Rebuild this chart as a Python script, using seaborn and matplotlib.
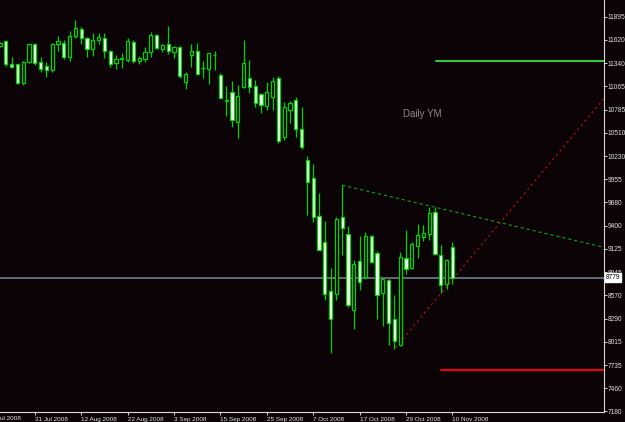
import numpy as np
import pandas as pd
import matplotlib
matplotlib.use("Agg")
import matplotlib.pyplot as plt
import matplotlib.transforms as mtransforms
from matplotlib import font_manager
import seaborn as sns

# ---------------- data ----------------
opens = [11548, 11608, 11333, 11329, 11105, 11353, 11572, 11357, 11312, 11261,
         11568, 11580, 11413, 11668, 11751, 11647, 11512, 11623, 11640, 11492,
         11341, 11395, 11380, 11600, 11372, 11392, 11480, 11680, 11512, 11568,
         11480, 11540, 11121, 11440, 11492, 11285, 11273, 11445, 11201, 10895,
         10994, 10642, 11061, 11161, 11069, 10974, 10834, 10941, 11161, 10463,
         10782, 10902, 10555, 10184, 9965, 9514, 9206, 8616, 8588, 9505,
         9307, 8397, 8983, 8787, 9274, 9079, 8601, 8748, 8289, 7970,
         9019, 8895, 9158, 9266, 9307, 9565, 9055, 8708, 9146]
highs = [11596, 11620, 11420, 11339, 11368, 11578, 11584, 11413, 11357, 11580,
         11671, 11616, 11731, 11859, 11772, 11659, 11700, 11700, 11700, 11500,
         11440, 11468, 11640, 11620, 11432, 11540, 11712, 11692, 11572, 11791,
         11552, 11552, 11240, 11572, 11580, 11368, 11468, 11492, 11225, 11073,
         11129, 11081, 11620, 11380, 11141, 10989, 11121, 11173, 11189, 10881,
         10893, 10941, 10822, 10232, 10136, 9792, 9457, 8900, 9505, 9885,
         9397, 8987, 9274, 9326, 9286, 9095, 8768, 8760, 8568, 9086,
         9346, 9202, 9426, 9406, 9625, 9625, 9167, 9007, 9206]
lows = [11536, 11312, 11281, 11093, 11085, 11345, 11324, 11233, 11181, 11240,
        11492, 11389, 11368, 11647, 11575, 11420, 11432, 11568, 11408, 11293,
        11273, 11288, 11360, 11341, 11329, 11353, 11420, 11508, 11480, 11449,
        11408, 11169, 11033, 11300, 11201, 11169, 11090, 11261, 10914, 10710,
        10575, 10451, 11042, 10982, 10822, 10743, 10782, 10782, 10391, 10423,
        10630, 10455, 10312, 9526, 9445, 9107, 8517, 7878, 8517, 9047,
        8428, 8170, 8636, 8768, 8951, 8289, 8201, 7978, 7930, 7962,
        8828, 8879, 9015, 9214, 9226, 9047, 8600, 8640, 8708]
closes = [11584, 11329, 11293, 11105, 11360, 11572, 11345, 11273, 11264, 11572,
          11611, 11420, 11671, 11760, 11640, 11512, 11620, 11652, 11488, 11329,
          11392, 11405, 11608, 11368, 11408, 11480, 11680, 11528, 11556, 11492,
          11536, 11189, 11209, 11488, 11213, 11280, 11460, 11440, 10929, 10893,
          10662, 10950, 11341, 11054, 10862, 10842, 10994, 11129, 10415, 10814,
          10862, 10551, 10343, 9924, 9505, 9115, 8588, 8281, 9486, 9374,
          8457, 8948, 8727, 9274, 8967, 8577, 8760, 8241, 8021, 9027,
          8888, 9187, 9295, 9319, 9558, 9067, 8688, 8987, 8779]

date_tick_index = [-2, 6, 14, 22, 30, 38, 46, 54, 62, 70, 78]
date_tick_labels = ["21 Jul 2008", "31 Jul 2008", "12 Aug 2008", "22 Aug 2008",
                    "3 Sep 2008", "15 Sep 2008", "25 Sep 2008", "7 Oct 2008",
                    "17 Oct 2008", "29 Oct 2008", "10 Nov 2008"]
price_ticks = [11895, 11620, 11340, 11065, 10785, 10510, 10230, 9955, 9680,
               9400, 9125, 8845, 8570, 8290, 8015, 7735, 7460, 7180]
last_price = 8779

upper_trend_idx = [59, 104.05]
upper_trend_price = [9885, 9143]
lower_trend_idx = [68.2, 104.05]
lower_trend_price = [7946, 10914]
green_level_idx = [75.1, 104.05]
green_level_price = [11368, 11368]
red_level_idx = [76.0, 104.05]
red_level_price = [7671, 7671]
label_text = "Daily YM"
label_idx = 69.5
label_price = 10734

# ---------------- style ----------------
BG = "#0b0306"
GREEN = "#00d400"
AXC = "#d8d8d8"

sns.set_theme(style="dark", rc={"axes.facecolor": BG, "figure.facecolor": BG})
avail = {f.name for f in font_manager.fontManager.ttflist}
if "Liberation Sans Narrow" in avail:
    axis_font, ytick_fs, xtick_fs = "Liberation Sans Narrow", 5.8, 5.6
else:
    axis_font, ytick_fs, xtick_fs = "Liberation Sans", 4.8, 4.6
plt.rcParams["font.family"] = ["Liberation Sans", "DejaVu Sans"]

fig = plt.figure(figsize=(6.25, 4.22), dpi=100)
ax = fig.add_axes([0, 10 / 422, 603.5 / 625, 412 / 422])
ax.set_facecolor(BG)

df = pd.DataFrame({"open": opens, "high": highs, "low": lows, "close": closes})
df["idx"] = np.arange(len(df))
up = df["close"] >= df["open"]

# bid line
ax.axhline(last_price, color="#778899", lw=1.1, zorder=1)

# trend lines (rays)
sns.lineplot(x=upper_trend_idx, y=upper_trend_price, ax=ax, color="#10a010",
             lw=0.8, linestyle=(0, (3, 2.5)), zorder=2)
sns.lineplot(x=lower_trend_idx, y=lower_trend_price, ax=ax, color="#c81010",
             lw=0.8, linestyle=(0, (2, 3)), zorder=2)

# candles
ax.vlines(df["idx"], df["low"], df["high"], color=GREEN, lw=0.9, zorder=3)
body_bottom = np.minimum(df["open"], df["close"])
body_h = np.maximum((df["close"] - df["open"]).abs(), 6)
ax.bar(df["idx"], body_h, bottom=body_bottom, width=0.58,
       color=np.where(up, BG, "white"), edgecolor=GREEN, linewidth=0.9, zorder=4)

# horizontal levels
sns.lineplot(x=green_level_idx, y=green_level_price, ax=ax, color="#32c832",
             lw=1.5, zorder=5)
sns.lineplot(x=red_level_idx, y=red_level_price, ax=ax, color="#f00000",
             lw=1.5, zorder=5)

ax.text(label_idx, label_price, label_text, color="#8a8a8a", fontsize=7,
        ha="left", va="center", zorder=6)

ax.set_xlim(0, 104.05)
ax.set_ylim(7174, 12098)

# spines
for s in ["left", "top"]:
    ax.spines[s].set_visible(False)
for s in ["right", "bottom"]:
    ax.spines[s].set_visible(True)
    ax.spines[s].set_color(AXC)
    ax.spines[s].set_linewidth(0.8)

ax.grid(False)
ax.yaxis.tick_right()
ax.set_yticks(price_ticks)
ax.set_yticklabels([str(p) for p in price_ticks], fontfamily=axis_font)
ax.tick_params(axis="y", colors=AXC, labelcolor="#e0e0e0", labelsize=ytick_fs,
               length=2.0, width=0.7, pad=0.8, direction="out", right=True, left=False)

in_pos = [p for p in date_tick_index if p >= 0]
in_lab = [l for p, l in zip(date_tick_index, date_tick_labels) if p >= 0]
ax.set_xticks(in_pos)
ax.set_xticklabels(in_lab, ha="left", fontfamily=axis_font)
ax.tick_params(axis="x", colors=AXC, labelcolor="#e0e0e0", labelsize=xtick_fs,
               length=2.5, width=0.7, pad=1.0, direction="out", bottom=True)
ax.set_xlabel("")
ax.set_ylabel("")

# date label of the bar left of the visible area
for p, l in zip(date_tick_index, date_tick_labels):
    if p < 0:
        trans = mtransforms.blended_transform_factory(ax.transData, ax.transAxes)
        ax.text(p, -3.5 / 412, l, transform=trans, ha="left", va="top",
                fontsize=xtick_fs, fontfamily=axis_font, color="#e0e0e0",
                clip_on=False)

# last price box
trans = mtransforms.blended_transform_factory(ax.transAxes, ax.transData)
ax.text(1.0 + 2.5 / 603.5, last_price, str(last_price), transform=trans,
        ha="left", va="center", fontsize=ytick_fs, fontfamily=axis_font,
        color="black", zorder=10, clip_on=False,
        bbox=dict(boxstyle="square,pad=0.12", fc="white", ec="white"))

fig.savefig("out.png", dpi=100, facecolor=BG)
